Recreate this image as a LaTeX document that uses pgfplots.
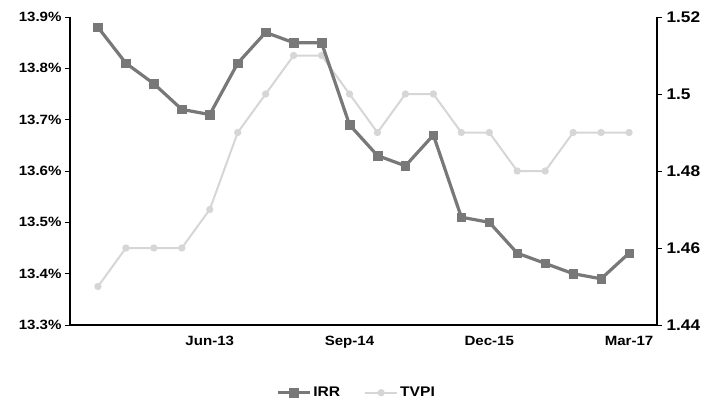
\documentclass[border=0pt]{standalone}
\usepackage{pgfplots}
\pgfplotsset{compat=1.18}
\usepackage{pgfplotstable}
\usepackage{fontspec}
\setmainfont{Liberation Sans}[FakeStretch=1.12]
\definecolor{irr}{RGB}{120,120,120}
\definecolor{tvpi}{RGB}{214,214,214}
\pgfplotstableread{
i irr tvpi
0 13.88 1.45
1 13.81 1.46
2 13.77 1.46
3 13.72 1.46
4 13.71 1.47
5 13.81 1.49
6 13.87 1.50
7 13.85 1.51
8 13.85 1.51
9 13.69 1.50
10 13.63 1.49
11 13.61 1.50
12 13.67 1.50
13 13.51 1.49
14 13.50 1.49
15 13.44 1.48
16 13.42 1.48
17 13.40 1.49
18 13.39 1.49
19 13.44 1.49
}\data
\begin{document}
\begin{tikzpicture}[font=\bfseries\fontsize{13.5}{15}\selectfont]
\pgfplotsset{base/.style={scale only axis, width=587bp, height=308bp,
  xmin=-1, xmax=20,
  /pgf/number format/assume math mode=true,
  tick align=outside, major tick length=5bp,
  every tick/.style={black, line width=1bp},
  axis line style={black, line width=2bp},
  tick label style={font=\bfseries\fontsize{13.5}{15}\selectfont},
  clip=false}}
\begin{axis}[base,
  axis x line=none, axis y line*=right,
  ymin=1.44, ymax=1.52,
  ytick={1.44,1.46,1.48,1.5,1.52},
  yticklabels={1.44,1.46,1.48,1.5,1.52},
  yticklabel style={xshift=1bp, font=\bfseries\fontsize{15.5}{17}\selectfont}]
\addplot[tvpi, line width=2bp, mark=*, mark size=2.6bp,
  mark options={fill=tvpi, draw=tvpi}] table[x=i, y=tvpi] {\data};
\end{axis}
\begin{axis}[base,
  axis x line*=bottom, axis y line*=left,
  ymin=13.3, ymax=13.9,
  ytick={13.3,13.4,13.5,13.6,13.7,13.8,13.9},
  yticklabel={\pgfmathprintnumber[fixed,precision=1,fixed zerofill]{\tick}\%},
  xtick={4,9,14,19},
  xticklabels={Jun-13,Sep-14,Dec-15,Mar-17},
  x tick style={draw=none},
  xticklabel style={yshift=-3bp},
  legend style={at={(axis description cs:0.5,-0.22)}, anchor=center,
    xshift=-7bp,
    draw=none, fill=none, legend columns=2,
    font=\bfseries\fontsize{14}{16}\selectfont,
    /tikz/every even column/.append style={column sep=22bp}},
  legend image code/.code={\draw[mark repeat=2,mark phase=2]
    plot coordinates {(0bp,0bp) (16bp,0bp) (32bp,0bp)};}]
\coordinate (sw) at (rel axis cs:0,0);
\addplot[irr, line width=3.2bp, mark=square*, mark size=4.3bp,
  mark options={fill=irr, draw=irr, line width=0.5bp}] table[x=i, y=irr] {\data};
\addlegendentry{IRR}
\addlegendimage{tvpi, line width=2bp, mark=*, mark size=2.6bp, mark options={fill=tvpi, draw=tvpi}}
\addlegendentry{TVPI}
\end{axis}
\path (sw) ++(-70bp,-81bp) rectangle ++(718bp,406bp);
\end{tikzpicture}
\end{document}
